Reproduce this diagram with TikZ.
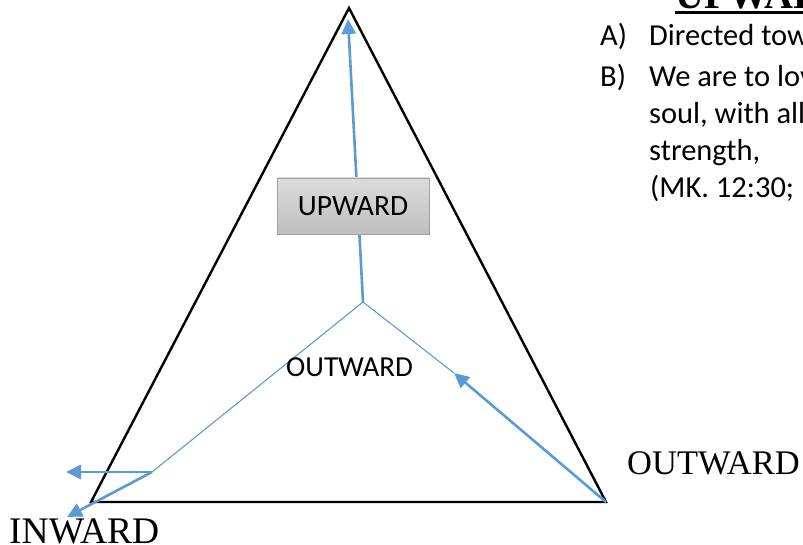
\documentclass[tikz,border=0pt]{standalone}
\usepackage{fontspec}
\setmainfont{Liberation Serif}
\newfontfamily\calfont{Carlito}
\usetikzlibrary{arrows.meta}
\definecolor{myblue}{HTML}{5B9BD5}
\definecolor{boxtop}{HTML}{DCDCDC}
\definecolor{boxbot}{HTML}{BFBFBF}
\definecolor{boxedge}{HTML}{A0A0A0}
\tikzset{
  tri/.style={draw=black, line width=2.4pt, line join=miter},
  thickarrow/.style={draw=myblue, line width=2.6pt, -{Triangle[length=15pt,width=14pt]}},
  thinline/.style={draw=myblue, line width=1.1pt},
  upbox/.style={draw=boxedge, line width=0.9pt, top color=boxtop, bottom color=boxbot,
    minimum width=152pt, minimum height=56pt, inner sep=0pt,
    font=\calfont\fontsize{29.5}{30}\selectfont},
  serifbig/.style={inner sep=0pt, anchor=base west},
  listtext/.style={inner sep=0pt, anchor=base west, font=\calfont\fontsize{30.5}{32}\selectfont},
}
\begin{document}
\begin{tikzpicture}[x=1pt,y=-1pt]
\useasboundingbox (0,0) rectangle (803,545);
\clip (0,0) rectangle (803,545);
% key points
\coordinate (A) at (349,8);
\coordinate (BL) at (91,502);
\coordinate (BR) at (606,502);
\coordinate (C) at (363,302);
\coordinate (L) at (152,472);
\coordinate (Utip) at (348,19);
\coordinate (Htip) at (66,472);
\coordinate (Dtip) at (67,517);
\coordinate (Rtip) at (454,373);
% triangle
\draw[tri] (A) -- (BL) -- (BR) -- cycle;
% blue lines
\draw[thickarrow] (C) -- (Utip);
\draw[thinline] (C) -- (L);
\draw[thinline] (C) -- (Rtip);
\draw[thickarrow] (BR) -- (Rtip);
\draw[thickarrow] (L) -- (Htip);
\draw[thickarrow] (L) -- (Dtip);
% box
\node[upbox] (box) at (353,206) {UPWARD};
% labels
\node[inner sep=0pt, anchor=base west, font=\calfont\fontsize{29}{30}\selectfont] (outin) at (286,376) {OUTWARD};
\node[serifbig, font=\fontsize{34.5}{36}\selectfont] (outr) at (627,474) {OUTWARD};
\node[serifbig, font=\fontsize{37.5}{38}\selectfont] (inw) at (9,543) {INWARD};
% heading
\node[serifbig, font=\bfseries\fontsize{40}{42}\selectfont] (head) at (675,9) {UPWARD};
\draw[line width=3pt] ([yshift=-4pt]head.base west) -- ++(200,0);
% list
\node[listtext] (la) at (600,46) {A)};
\node[listtext] (ta) at (649,46) {Directed toward};
\node[listtext] (lb) at (600,87) {B)};
\node[listtext] (tb1) at (649,87) {We are to love};
\node[listtext] (tb2) at (649,124) {soul, with all your};
\node[listtext] (tb3) at (649,161) {strength,};
\node[listtext] (tb4) at (650,198) {(MK. 12:30;};
\end{tikzpicture}
\end{document}
